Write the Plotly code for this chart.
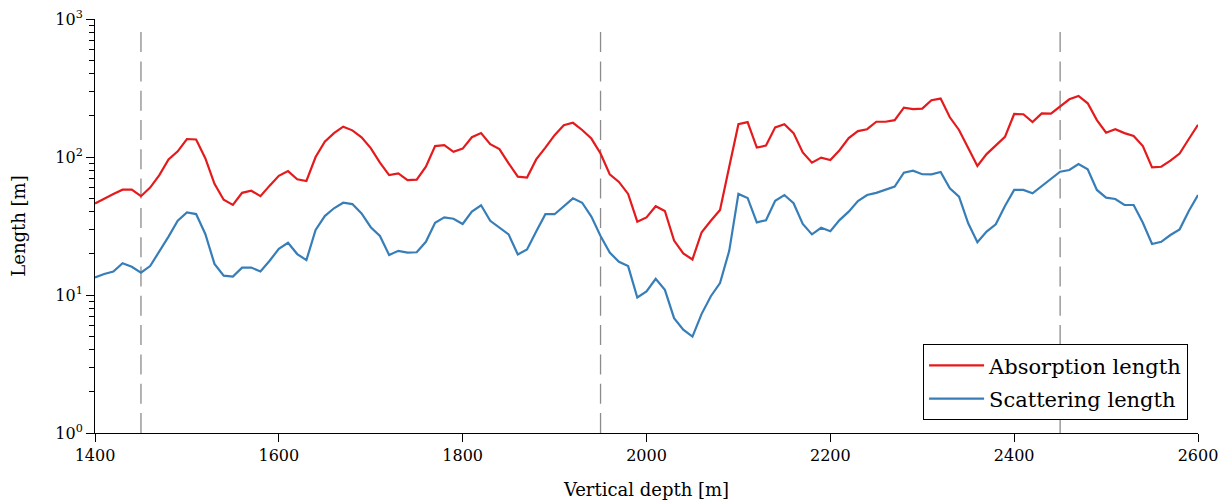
import plotly.graph_objects as go

depth = list(range(1400, 2601, 10))

absorption = [
    46, 50, 54, 58, 58, 52, 60, 74, 96, 110,
    135, 134, 98, 64, 49, 45, 55, 57, 52, 62,
    73, 79, 69, 67, 100, 129, 149, 166, 156, 139,
    116, 91, 74, 76, 68, 68.5, 85, 120, 122, 109,
    115, 139, 149, 124, 114, 90, 72, 71, 96, 117,
    144, 170, 177, 157, 136, 106, 75, 66, 54, 34,
    36.5, 44, 40.6, 24.8, 20, 18.1, 28.5, 34.5, 41.3, 85,
    173, 179, 117, 121, 164, 173, 149, 108, 91, 99,
    95, 112, 137, 154, 159, 180, 180, 185, 228, 222,
    224, 258, 265, 194, 157, 116, 86, 105, 122, 140,
    205, 204, 179, 207, 206, 234, 262, 277, 245, 185,
    150, 159, 149, 142, 120, 84, 85, 94, 106, 135,
    171,
]

scattering = [
    13.4, 14.2, 14.8, 17, 16, 14.5, 16.2, 20.6, 26.5, 34.5,
    39.7, 38.6, 27.7, 16.8, 13.8, 13.6, 15.8, 15.8, 14.8, 17.7,
    21.6, 23.9, 19.8, 17.9, 29.6, 37.3, 42.5, 46.6, 45.6, 39,
    31, 26.8, 19.5, 20.9, 20.3, 20.4, 24.3, 33.4, 36.5, 35.7,
    32.7, 40.2, 44.7, 34.5, 30.7, 27.5, 19.7, 21.4, 28.8, 38.5,
    38.5, 44.2, 50.2, 46.6, 37, 26.8, 20.3, 17.4, 16.2, 9.6,
    10.6, 13.1, 10.9, 6.8, 5.6, 5.0, 7.3, 9.8, 12.2, 20.9,
    54, 50.5, 33.6, 34.8, 48.2, 53, 46.2, 32.7, 27.5, 30.7,
    29, 34.9, 40.2, 48, 53, 55, 58.3, 61, 77, 79.6,
    75, 74.9, 77.9, 59.3, 51.6, 33.1, 24.1, 28.8, 32.5, 44.2,
    57.7, 57.7, 54.6, 61.6, 69.6, 78.2, 80.5, 89, 81.5, 57.7,
    50.7, 49.6, 44.9, 44.9, 33.4, 23.4, 24.3, 27.2, 29.9, 40.6,
    53,
]

marker_depths = [1450, 1950, 2450]

x_ticks = [1400, 1600, 1800, 2000, 2200, 2400, 2600]
y_ticks = [1, 10, 100, 1000]
y_ticktext = ["10<sup>0</sup>", "10<sup>1</sup>", "10<sup>2</sup>", "10<sup>3</sup>"]
y_minor = [m * 10 ** e for e in range(0, 3) for m in range(2, 10)]

FONT = "DejaVu Serif"

fig = go.Figure()
fig.add_trace(go.Scatter(
    x=depth, y=absorption, mode="lines", name="Absorption length",
    line=dict(color="#e41a1c", width=2.2), legendgroup="a",
))
fig.add_trace(go.Scatter(
    x=depth, y=scattering, mode="lines", name="Scattering length",
    line=dict(color="#377eb8", width=2.2), legendgroup="b",
))

for d in marker_depths:
    fig.add_shape(type="line", xref="x", yref="paper", x0=d, x1=d, y0=0, y1=0.97,
                  line=dict(color="#8c8c8c", width=1.3, dash="20px,9.3px"), layer="below")

fig.update_layout(
    width=1222, height=496,
    margin=dict(l=87, r=32, t=11, b=71, autoexpand=False),
    paper_bgcolor="white", plot_bgcolor="white",
    font=dict(family=FONT, size=16, color="black"),
    showlegend=True,
    legend=dict(
        x=0.991, xanchor="right", y=0.031, yanchor="bottom",
        bordercolor="black", borderwidth=1, bgcolor="white",
        font=dict(family=FONT, size=21),
        tracegroupgap=3, itemwidth=55,
    ),
    xaxis=dict(
        range=[1400, 2600], tickvals=x_ticks, ticks="outside", ticklen=8,
        tickcolor="black", showline=True, linecolor="black", linewidth=1,
        showgrid=False, zeroline=False, mirror=False, automargin=False,
        ticklabeloverflow="allow",
        title=dict(text="Vertical depth [m]", font=dict(size=18), standoff=19),
        tickfont=dict(size=16),
    ),
    yaxis=dict(
        type="log", range=[0, 3], tickvals=y_ticks, ticktext=y_ticktext,
        ticks="outside", ticklen=8, tickcolor="black",
        showline=True, linecolor="black", linewidth=1,
        showgrid=False, zeroline=False, automargin=False,
        ticklabeloverflow="allow",
        minor=dict(tickvals=y_minor, ticks="outside", ticklen=5, tickcolor="black", showgrid=False),
        title=dict(text="Length [m]", font=dict(size=18), standoff=25),
        tickfont=dict(size=16),
    ),
)

fig.write_html("out.html")
